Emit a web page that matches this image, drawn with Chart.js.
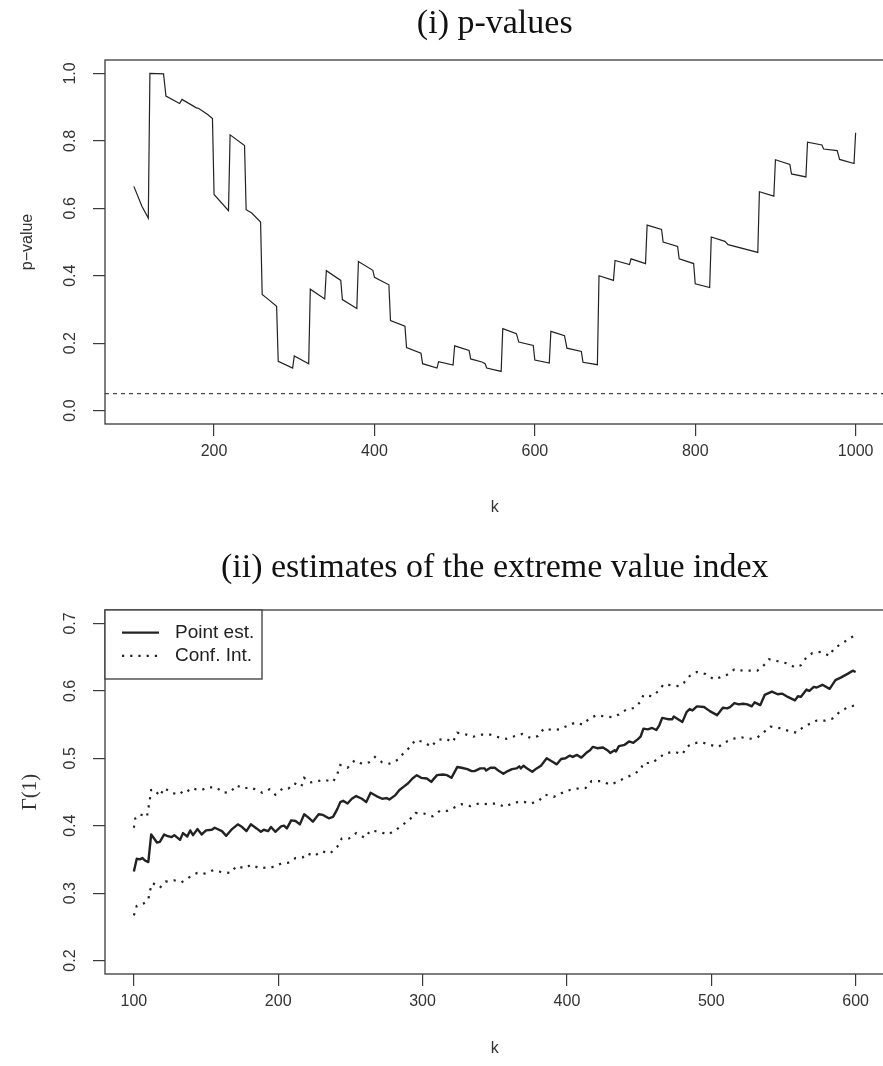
<!DOCTYPE html>
<html>
<head>
<meta charset="utf-8">
<title>p-values and extreme value index</title>
<script src="https://cdn.jsdelivr.net/npm/chart.js@4.4.1/dist/chart.umd.min.js"></script>
<style>
  html, body { margin: 0; padding: 0; background: #fff; overflow: hidden; }
  .panel { position: absolute; left: 0; width: 886px; height: 533px; }
  #top-panel { top: 0; }
  #bottom-panel { top: 533px; }
</style>
</head>
<body>
<div class="panel" id="top-panel"><canvas id="pvalChart"></canvas></div>
<div class="panel" id="bottom-panel"><canvas id="eviChart"></canvas></div>
<script>
// (i) p-values
const pK = [100, 110, 118, 120, 137, 140, 157, 160, 178, 181, 192, 198, 200, 218, 220, 238, 240, 247, 258, 260,
  268, 278, 280, 298, 300, 318, 320, 338, 340, 358, 360, 378, 380, 398, 400, 418, 420, 438, 440, 458,
  460, 478, 480, 498, 500, 518, 520, 534, 538, 540, 558, 560, 577, 580, 598, 600, 618, 620, 637, 640,
  658, 660, 678, 680, 698, 700, 718, 720, 738, 740, 758, 760, 778, 780, 798, 800, 818, 820, 837, 841,
  878, 880, 898, 900, 918, 920, 938, 940, 958, 960, 977, 980, 998, 1000];
const pValue = [0.665, 0.606, 0.571, 1.000, 0.999, 0.933, 0.911, 0.923, 0.898, 0.896, 0.878, 0.866, 0.641, 0.593, 0.818, 0.786, 0.596, 0.586, 0.559, 0.344,
  0.329, 0.309, 0.146, 0.126, 0.162, 0.139, 0.360, 0.331, 0.415, 0.386, 0.329, 0.303, 0.442, 0.416, 0.395, 0.373, 0.267, 0.250, 0.187, 0.170,
  0.139, 0.126, 0.145, 0.135, 0.192, 0.178, 0.153, 0.144, 0.139, 0.126, 0.116, 0.243, 0.228, 0.203, 0.193, 0.150, 0.141, 0.235, 0.222, 0.185,
  0.175, 0.143, 0.136, 0.400, 0.386, 0.445, 0.433, 0.450, 0.436, 0.550, 0.537, 0.500, 0.487, 0.450, 0.436, 0.376, 0.365, 0.515, 0.502, 0.492,
  0.469, 0.649, 0.636, 0.744, 0.730, 0.702, 0.693, 0.796, 0.788, 0.776, 0.771, 0.745, 0.733, 0.824];
const alphaLevel = 0.05;
const pXTicks = [200, 400, 600, 800, 1000];
const pYTicks = [0, 0.2, 0.4, 0.6, 0.8, 1.0];

// (ii) estimates of the extreme value index
const estK = [100, 102, 104, 106, 108, 110, 112, 114, 116, 118, 121, 123, 126, 128, 132, 134, 137, 139, 141, 144,
  147, 150, 154, 156, 161, 164, 168, 172, 175, 178, 181, 185, 188, 190, 193, 195, 198, 202, 204, 206,
  209, 212, 215, 218, 221, 224, 228, 231, 235, 238, 241, 243, 245, 248, 251, 254, 258, 261, 264, 268,
  272, 275, 277, 281, 284, 287, 290, 293, 296, 299, 303, 306, 310, 314, 317, 320, 324, 327, 331, 334,
  336, 340, 343, 344, 347, 350, 353, 356, 359, 362, 365, 367, 368, 370, 373, 376, 379, 382, 386, 390,
  393, 396, 399, 402, 404, 407, 410, 414, 416, 418, 421, 425, 428, 430, 433, 434, 436, 440, 443, 446,
  449, 451, 453, 456, 459, 462, 464, 466, 470, 473, 474, 477, 480, 483, 485, 487, 490, 495, 499, 504,
  508, 511, 513, 516, 519, 522, 525, 528, 530, 534, 537, 542, 546, 549, 553, 558, 560, 562, 566, 568,
  571, 573, 577, 582, 586, 590, 595, 598, 600];
const estPoint = [0.332, 0.351, 0.350, 0.352, 0.348, 0.346, 0.387, 0.381, 0.375, 0.376, 0.387, 0.385, 0.383, 0.386, 0.379, 0.389, 0.384, 0.393, 0.386, 0.395,
  0.387, 0.393, 0.394, 0.397, 0.392, 0.385, 0.395, 0.402, 0.398, 0.392, 0.402, 0.396, 0.391, 0.394, 0.392, 0.398, 0.391, 0.399, 0.400, 0.396,
  0.408, 0.407, 0.402, 0.417, 0.412, 0.406, 0.417, 0.416, 0.411, 0.413, 0.425, 0.435, 0.437, 0.433, 0.440, 0.444, 0.440, 0.435, 0.449, 0.444,
  0.440, 0.441, 0.439, 0.445, 0.453, 0.458, 0.463, 0.470, 0.475, 0.471, 0.470, 0.465, 0.475, 0.476, 0.475, 0.471, 0.487, 0.486, 0.484, 0.481,
  0.481, 0.485, 0.485, 0.482, 0.486, 0.486, 0.481, 0.477, 0.481, 0.484, 0.485, 0.488, 0.485, 0.489, 0.484, 0.480, 0.485, 0.489, 0.500, 0.495,
  0.491, 0.499, 0.500, 0.504, 0.502, 0.505, 0.501, 0.509, 0.512, 0.517, 0.515, 0.516, 0.512, 0.508, 0.512, 0.510, 0.518, 0.520, 0.525, 0.523,
  0.528, 0.532, 0.544, 0.543, 0.545, 0.542, 0.549, 0.560, 0.558, 0.558, 0.562, 0.558, 0.554, 0.569, 0.573, 0.571, 0.577, 0.576, 0.570, 0.564,
  0.575, 0.574, 0.576, 0.582, 0.580, 0.581, 0.580, 0.577, 0.583, 0.579, 0.594, 0.599, 0.595, 0.596, 0.591, 0.586, 0.592, 0.591, 0.602, 0.600,
  0.606, 0.605, 0.609, 0.603, 0.616, 0.620, 0.626, 0.630, 0.628];

const upperK = [100, 101, 104, 109, 110, 111, 112, 114, 118, 121, 126, 131, 134, 136, 140, 143, 147, 151, 157, 162,
  167, 171, 176, 180, 184, 189, 194, 198, 203, 207, 211, 216, 218, 222, 227, 232, 238, 241, 243, 248,
  253, 258, 263, 267, 272, 277, 283, 287, 291, 295, 301, 306, 310, 316, 321, 324, 329, 335, 341, 347,
  353, 358, 364, 369, 375, 380, 384, 390, 395, 401, 406, 411, 416, 421, 426, 432, 436, 441, 447, 451,
  453, 459, 464, 467, 473, 478, 481, 485, 490, 496, 502, 506, 511, 516, 522, 527, 532, 536, 540, 546,
  552, 558, 562, 566, 570, 576, 582, 585, 591, 596, 600];
const upperCI = [0.397, 0.411, 0.417, 0.413, 0.425, 0.438, 0.453, 0.454, 0.444, 0.456, 0.449, 0.446, 0.451, 0.449, 0.456, 0.454, 0.453, 0.457, 0.457, 0.449,
  0.450, 0.460, 0.455, 0.457, 0.454, 0.449, 0.454, 0.446, 0.455, 0.455, 0.463, 0.458, 0.471, 0.464, 0.466, 0.468, 0.465, 0.477, 0.490, 0.486,
  0.497, 0.492, 0.494, 0.502, 0.494, 0.492, 0.498, 0.508, 0.516, 0.527, 0.524, 0.517, 0.527, 0.529, 0.524, 0.538, 0.536, 0.532, 0.535, 0.535,
  0.531, 0.529, 0.533, 0.536, 0.530, 0.533, 0.544, 0.542, 0.543, 0.549, 0.553, 0.550, 0.560, 0.564, 0.562, 0.561, 0.565, 0.572, 0.575, 0.584,
  0.594, 0.592, 0.601, 0.610, 0.608, 0.607, 0.612, 0.622, 0.628, 0.625, 0.617, 0.620, 0.624, 0.632, 0.630, 0.630, 0.630, 0.637, 0.647, 0.644,
  0.641, 0.635, 0.638, 0.650, 0.656, 0.658, 0.652, 0.663, 0.671, 0.678, 0.683];

const lowerK = [100, 102, 107, 110, 111, 113, 118, 122, 128, 133, 136, 140, 144, 149, 155, 161, 167, 171, 177, 181,
  187, 192, 197, 202, 207, 212, 217, 220, 225, 230, 236, 241, 244, 249, 254, 260, 264, 270, 276, 281,
  286, 291, 295, 301, 307, 312, 317, 322, 327, 333, 339, 345, 351, 357, 363, 369, 375, 380, 385, 391,
  396, 402, 407, 413, 417, 424, 430, 435, 440, 446, 451, 453, 459, 464, 468, 474, 480, 483, 487, 493,
  499, 505, 510, 515, 521, 527, 532, 536, 541, 547, 553, 559, 563, 568, 573, 579, 584, 589, 594, 600];
const lowerCI = [0.267, 0.281, 0.285, 0.290, 0.303, 0.315, 0.308, 0.317, 0.319, 0.316, 0.320, 0.326, 0.330, 0.329, 0.334, 0.331, 0.330, 0.340, 0.337, 0.342,
  0.337, 0.338, 0.339, 0.344, 0.345, 0.352, 0.353, 0.359, 0.355, 0.362, 0.359, 0.369, 0.381, 0.381, 0.389, 0.382, 0.393, 0.391, 0.387, 0.393,
  0.401, 0.409, 0.419, 0.418, 0.414, 0.422, 0.422, 0.427, 0.432, 0.429, 0.433, 0.432, 0.433, 0.428, 0.434, 0.436, 0.433, 0.436, 0.446, 0.443,
  0.448, 0.453, 0.455, 0.456, 0.466, 0.466, 0.461, 0.465, 0.471, 0.476, 0.483, 0.493, 0.493, 0.501, 0.507, 0.510, 0.506, 0.517, 0.522, 0.524,
  0.520, 0.517, 0.524, 0.529, 0.531, 0.529, 0.531, 0.538, 0.547, 0.545, 0.541, 0.538, 0.545, 0.551, 0.556, 0.556, 0.559, 0.569, 0.575, 0.579];
const eviXTicks = [100, 200, 300, 400, 500, 600];
const eviYTicks = [0.2, 0.3, 0.4, 0.5, 0.6, 0.7];

const SANS = '"Liberation Sans", Arial, sans-serif';
const SERIF = '"Liberation Serif", "Times New Roman", serif';
const INK = '#222';
const FRAME = '#3a3a3a';

const toPoints = (xs, ys) => xs.map((x, i) => ({ x, y: ys[i] }));

// box round the plot region, like R's bty="o"
const framePlugin = {
  id: 'frame',
  afterDatasetsDraw(chart) {
    const { ctx, chartArea: a } = chart;
    ctx.save();
    ctx.strokeStyle = FRAME;
    ctx.lineWidth = 1.3;
    ctx.strokeRect(a.left, a.top, a.right - a.left, a.bottom - a.top);
    ctx.restore();
  }
};

// legend in a box at the top-left corner of the plot region
const boxLegend = {
  id: 'boxLegend',
  afterDraw(chart, args, opts) {
    if (!opts.display) return;
    const { ctx, chartArea: a } = chart;
    const items = chart.data.datasets.filter(d => d.label);
    const x0 = a.left, y0 = a.top;
    const h = opts.padTop + items.length * opts.rowHeight + opts.padBottom;
    ctx.save();
    ctx.fillStyle = '#fff';
    ctx.fillRect(x0, y0, opts.width, h);
    ctx.strokeStyle = FRAME;
    ctx.lineWidth = 1.3;
    ctx.strokeRect(x0, y0, opts.width, h);
    ctx.font = `${opts.fontSize}px ${SANS}`;
    ctx.textBaseline = 'middle';
    items.forEach((d, i) => {
      const y = y0 + opts.padTop + opts.rowHeight * (i + 0.5);
      ctx.strokeStyle = d.borderColor;
      ctx.lineWidth = d.borderWidth;
      ctx.setLineDash(d.borderDash || []);
      ctx.beginPath();
      ctx.moveTo(x0 + 17, y);
      ctx.lineTo(x0 + 54, y);
      ctx.stroke();
      ctx.setLineDash([]);
      ctx.fillStyle = INK;
      ctx.fillText(d.label, x0 + 70, y);
    });
    ctx.restore();
  }
};

function axisX(min, max, ticks, padBottom) {
  return {
    type: 'linear', min, max,
    afterBuildTicks: s => { s.ticks = ticks.map(v => ({ value: v })); },
    afterFit: s => { s.height = 533 - s.chart.options.plotBottom; },
    grid: { drawOnChartArea: false, tickLength: 12, color: FRAME, lineWidth: 1.2 },
    border: { display: false },
    ticks: { autoSkip: false, maxRotation: 0, padding: 6, color: '#333',
      font: { family: SANS, size: 16 }, callback: v => String(v) },
    title: { display: true, text: 'k', color: '#333', font: { family: SANS, size: 16 },
      padding: { top: 0, bottom: padBottom } }
  };
}

function axisY(min, max, ticks, title, titleFont) {
  return {
    type: 'linear', min, max,
    afterBuildTicks: s => { s.ticks = ticks.map(v => ({ value: v })); },
    afterFit: s => { s.width = 105; },
    grid: { drawOnChartArea: false, tickLength: 12, color: FRAME, lineWidth: 1.2 },
    border: { display: false },
    ticks: { autoSkip: false, minRotation: 90, maxRotation: 90, crossAlign: 'center', padding: 11,
      color: '#333', font: { family: SANS, size: 16 }, callback: v => v.toFixed(1) },
    title: { display: true, text: title, color: '#333', font: titleFont,
      padding: { top: 18, bottom: 0 } }
  };
}

Chart.defaults.animation = false;

new Chart(document.getElementById('pvalChart'), {
  type: 'line',
  data: {
    datasets: [
      { label: 'p-value', data: toPoints(pK, pValue), borderColor: INK, borderWidth: 1.2,
        pointRadius: 0, tension: 0 },
      { label: 'level', data: [{ x: 64, y: alphaLevel }, { x: 1036, y: alphaLevel }],
        borderColor: '#333', borderWidth: 1.1, borderDash: [4, 4], pointRadius: 0 }
    ]
  },
  options: {
    responsive: true, maintainAspectRatio: false, events: [],
    plotBottom: 424,
    layout: { padding: { left: 0, right: 1.5, top: 0, bottom: 0 } },
    plugins: {
      legend: { display: false }, tooltip: { enabled: false },
      boxLegend: { display: false },
      title: { display: true, fullSize: false, text: '(i) p-values', color: '#111',
        font: { family: SERIF, size: 34, weight: 'normal' }, padding: { top: 4, bottom: 15.2 } }
    },
    scales: {
      x: axisX(64, 1036, pXTicks, 16),
      y: axisY(-0.04, 1.04, pYTicks, 'p\u2212value', { family: SANS, size: 16 })
    }
  },
  plugins: [framePlugin, boxLegend]
});

new Chart(document.getElementById('eviChart'), {
  type: 'line',
  data: {
    datasets: [
      { label: 'Point est.', data: toPoints(estK, estPoint), borderColor: INK, borderWidth: 2.4,
        pointRadius: 0, tension: 0, borderJoinStyle: 'round' },
      { label: 'Conf. Int.', data: toPoints(upperK, upperCI), borderColor: INK, borderWidth: 2.2,
        borderDash: [2.2, 6], pointRadius: 0, tension: 0 },
      { label: '', data: toPoints(lowerK, lowerCI), borderColor: INK, borderWidth: 2.2,
        borderDash: [2.2, 6], pointRadius: 0, tension: 0 }
    ]
  },
  options: {
    responsive: true, maintainAspectRatio: false, events: [],
    plotBottom: 441,
    layout: { padding: { left: 0, right: 1.5, top: 0, bottom: 0 } },
    plugins: {
      legend: { display: false }, tooltip: { enabled: false },
      boxLegend: { display: true, width: 157, rowHeight: 23.3, padTop: 11, padBottom: 11.4, fontSize: 19 },
      title: { display: true, fullSize: false, text: '(ii) estimates of the extreme value index', color: '#111',
        font: { family: SERIF, size: 34, weight: 'normal' }, padding: { top: 15, bottom: 21.2 } }
    },
    scales: {
      x: axisX(80, 620, eviXTicks, 8),
      y: axisY(0.18, 0.72, eviYTicks, '\u0393(1)', { family: SERIF, size: 21 })
    }
  },
  plugins: [framePlugin, boxLegend]
});
</script>
</body>
</html>
